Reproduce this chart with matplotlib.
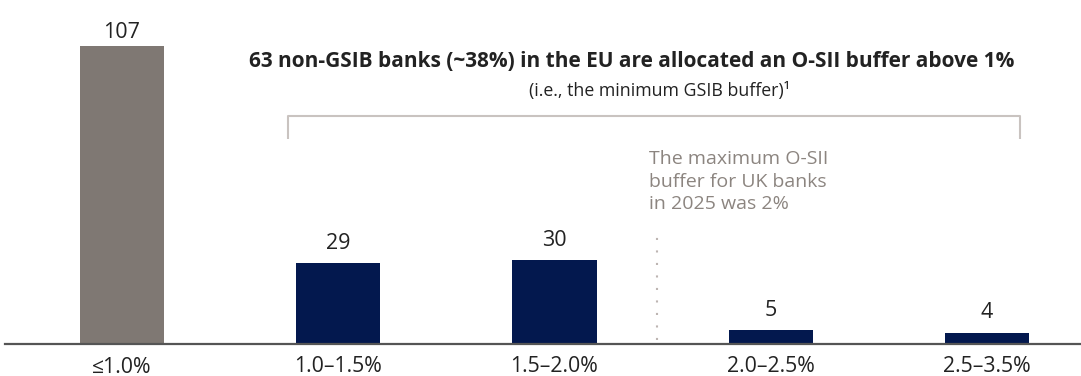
import matplotlib.pyplot as plt

plt.rcParams['font.family'] = ['Open Sans', 'DejaVu Sans']

categories = ['≤1.0%', '1.0–1.5%', '1.5–2.0%', '2.0–2.5%', '2.5–3.5%']
banks = [107, 29, 30, 5, 4]
colors = ['#7f7873', '#03184e', '#03184e', '#03184e', '#03184e']

fig = plt.figure(figsize=(10.81, 3.76), dpi=100)
ax = fig.add_axes([5 / 1081, 32 / 376, 1076 / 1081, 344 / 376])

x = range(len(categories))
ax.bar(x, banks, width=0.39, color=colors, zorder=2)
for i, v in zip(x, banks):
    # keep the tallest label inside the figure
    ax.text(i, min(v + 3.4, 108.0), str(v), ha='center', va='bottom',
            fontsize=15.5, color='#222222')

ax.set_xlim(-0.541, 4.435)
ax.set_ylim(0, 123.5)
ax.set_xticks(list(x))
ax.set_xticklabels(categories, fontsize=15.3, color='#222222')
ax.tick_params(axis='x', length=0, pad=9)
ax.set_yticks([])
for s in ['top', 'right', 'left']:
    ax.spines[s].set_visible(False)
ax.spines['bottom'].set_color('#555555')
ax.spines['bottom'].set_linewidth(1.6)

# bracket over the buckets above 1%
bx0, bx1 = 0.7665, 4.155
by0, by1 = 82.0, 73.5
ax.plot([bx0, bx0, bx1, bx1], [by1, by0, by0, by1], color='#c9c3c0', lw=1.5,
        solid_capstyle='butt', clip_on=False)

ax.text(2.358, 101.5, '63 non-GSIB banks (~38%) in the EU are allocated an O-SII buffer above 1%',
        ha='center', va='center', fontsize=15, fontweight='bold', color='#222222')
ax.text(2.488, 90.7, '(i.e., the minimum GSIB buffer)¹',
        ha='center', va='center', fontsize=12.8, color='#222222')

# UK maximum marker
ax.plot([2.476, 2.476], [1.5, 41], color='#bdb5b2', lw=1.5, ls=(0, (1, 5)))
ax.text(2.435, 69.5, 'The maximum O-SII\nbuffer for UK banks\nin 2025 was 2%',
        ha='left', va='top', fontsize=14, color='#8c8580', linespacing=1.3)

fig.savefig('out.png', dpi=100)
